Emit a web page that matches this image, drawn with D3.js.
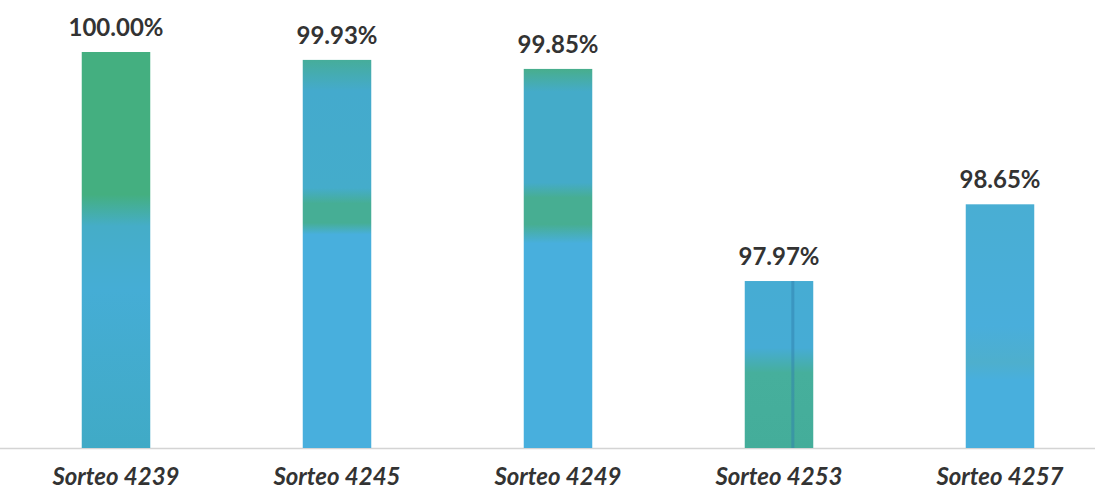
<!DOCTYPE html>
<html><head><meta charset="utf-8">
<script src="https://cdn.jsdelivr.net/npm/d3@7"></script>
<style>body{margin:0;background:#fff}svg{display:block}</style>
</head><body>
<svg id="c" width="1102" height="493"></svg>
<script>
const categories = ["Sorteo 4239","Sorteo 4245","Sorteo 4249","Sorteo 4253","Sorteo 4257"];
const values = [100.00, 99.93, 99.85, 97.97, 98.65];
const valueLabels = ["100.00%","99.93%","99.85%","97.97%","98.65%"];

// scanned-look colour bands for each bar (style only)
const G = "#44af80", B = "#48afdd", T = "#40aac6";
const barStops = [
  [[0,G],[0.36,G],[0.44,"#45adc8"],[0.6,"#45add5"],[1,T]],
  [[0,"#46ad9a"],[0.08,"#44aacd"],[0.33,"#44accb"],[0.37,"#46ae95"],[0.42,"#46ae95"],[0.45,B],[1,B]],
  [[0,"#48ae8c"],[0.06,"#44abc9"],[0.3,"#44abc9"],[0.34,"#47ae92"],[0.41,"#47ae92"],[0.46,B],[1,B]],
  [[0,"#46acd3"],[0.4,"#46acd5"],[0.55,"#46af9c"],[1,"#44ad9a"]],
  [[0,"#49aed3"],[0.5,"#49aedb"],[0.65,"#4eafcd"],[0.72,B],[1,B]]
];

const svg = d3.select("#c");
const margin = {top: 52, bottom: 45};
const H = 493;
const x = d3.scaleBand().domain(categories).range([5.5, 1110.5]).paddingInner(0.69).paddingOuter(0.345);
const y = d3.scaleLinear().domain([96.49, 100]).range([H - margin.bottom, margin.top]);

const defs = svg.append("defs");
barStops.forEach((stops, i) => {
  const g = defs.append("linearGradient").attr("id", "g" + i).attr("x1", 0).attr("y1", 0).attr("x2", 0).attr("y2", 1);
  stops.forEach(s => g.append("stop").attr("offset", s[0]).attr("stop-color", s[1]));
});

// baseline
svg.append("line").attr("x1", 0).attr("x2", 1095).attr("y1", y(96.49)+0.5).attr("y2", y(96.49)+0.5)
  .attr("stroke", "#d4d4d4").attr("stroke-width", 1.5);

svg.selectAll("rect.bar").data(values).join("rect").attr("class", "bar")
  .attr("x", (d, i) => x(categories[i]))
  .attr("width", x.bandwidth())
  .attr("y", d => y(d))
  .attr("height", d => y(96.49) - y(d))
  .attr("fill", (d, i) => "url(#g" + i + ")");

// dark scan streak on 4th bar
svg.append("rect").attr("x", x(categories[3]) + x.bandwidth() * 0.68).attr("width", 3)
  .attr("y", y(values[3])).attr("height", y(96.49) - y(values[3]))
  .attr("fill", "#2f7fae").attr("opacity", 0.5);

svg.selectAll("text.val").data(values).join("text").attr("class", "val")
  .attr("x", (d, i) => x(categories[i]) + x.bandwidth() / 2)
  .attr("y", d => y(d) - 16)
  .attr("text-anchor", "middle")
  .attr("font-family", "Lato, 'Open Sans', sans-serif")
  .attr("font-weight", "bold").attr("font-size", 24).attr("fill", "#333")
  .text((d, i) => valueLabels[i]);

const xAxis = svg.append("g").attr("transform", `translate(0,${y(96.49)})`)
  .call(d3.axisBottom(x).tickSize(0).tickPadding(20));
xAxis.select(".domain").remove();
xAxis.selectAll("text")
  .attr("font-family", "Lato, 'Open Sans', sans-serif")
  .attr("font-weight", "bold").attr("font-style", "italic")
  .attr("font-size", 24).attr("fill", "#333");
</script>
</body></html>
